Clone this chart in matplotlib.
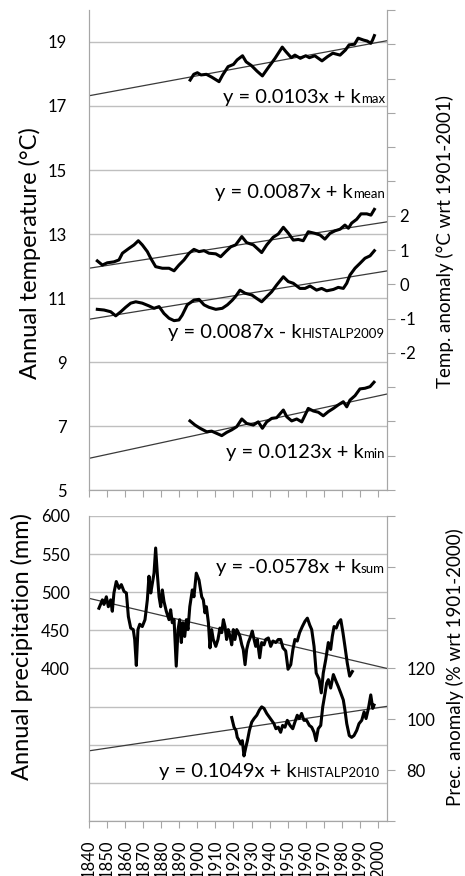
import matplotlib
matplotlib.use("Agg")
import matplotlib.pyplot as plt
from matplotlib.offsetbox import TextArea, HPacker, AnnotationBbox

plt.rcParams["font.family"] = ["Lato", "DejaVu Sans"]

# ---- temperature series (deg C) ----
tmax_years = [1896, 1898, 1900, 1902, 1905, 1908, 1912, 1914, 1917, 1920, 1922, 1925, 1927,
              1930, 1933, 1936, 1939, 1943, 1947, 1949, 1952, 1954, 1957, 1960, 1962, 1965,
              1969, 1972, 1975, 1979, 1982, 1984, 1987, 1989, 1992, 1994, 1996, 1997, 1998]
tmax = [17.81, 17.99, 18.04, 17.97, 17.99, 17.90, 17.76, 17.97, 18.23, 18.30, 18.44, 18.57, 18.38,
        18.26, 18.09, 17.94, 18.18, 18.49, 18.84, 18.70, 18.51, 18.59, 18.49, 18.57, 18.51, 18.57,
        18.41, 18.54, 18.65, 18.59, 18.75, 18.91, 18.93, 19.12, 19.06, 19.03, 18.96, 19.06, 19.20]

tmean_years = [1844.6, 1847.4, 1850.1, 1853.8, 1856.6, 1858.5, 1862.1, 1864.9, 1867.3, 1869.5,
               1872.3, 1874.2, 1876.9, 1880.6, 1884.3, 1887.1, 1889.8, 1892.6, 1895.4, 1898.1,
               1900.9, 1903.7, 1906.4, 1910.2, 1912.9, 1915.7, 1918.5, 1921.2, 1924.6, 1927.3,
               1931.0, 1935.6, 1938.4, 1942.0, 1944.8, 1947.6, 1950.3, 1953.1, 1955.9, 1958.6,
               1961.4, 1965.1, 1967.9, 1970.6, 1973.4, 1976.2, 1979.0, 1981.7, 1983.6, 1985.4,
               1988.2, 1990.6, 1993.8, 1996.1, 1998.0]
tmean = [12.16, 12.03, 12.10, 12.13, 12.19, 12.40, 12.55, 12.66, 12.79, 12.66,
         12.45, 12.24, 11.98, 11.93, 11.93, 11.85, 12.03, 12.19, 12.40, 12.52,
         12.45, 12.48, 12.40, 12.38, 12.29, 12.45, 12.60, 12.66, 12.92, 12.73,
         12.66, 12.42, 12.66, 12.90, 13.00, 13.21, 13.03, 12.81, 12.83, 12.79,
         13.07, 13.02, 12.97, 12.84, 13.02, 13.10, 13.15, 13.28, 13.18, 13.34,
         13.46, 13.63, 13.63, 13.59, 13.77]

# HISTALP temperature anomaly (deg C wrt 1901-2001, right axis)
hist_t_years = [1844.6, 1848.3, 1852.0, 1854.8, 1857.6, 1860.3, 1863.1, 1865.9, 1869.5, 1873.2,
                1876.0, 1878.8, 1881.5, 1884.3, 1887.1, 1889.8, 1891.6, 1894.4, 1898.1, 1900.9,
                1903.7, 1906.4, 1910.2, 1913.8, 1916.6, 1919.4, 1921.5, 1923.6, 1926.4, 1930.1,
                1932.8, 1935.6, 1938.4, 1941.1, 1943.9, 1947.6, 1950.3, 1953.1, 1956.8, 1959.6,
                1962.4, 1966.0, 1968.8, 1971.6, 1975.3, 1978.0, 1980.8, 1982.7, 1984.5, 1987.3,
                1990.0, 1992.8, 1995.6, 1998.0]
hist_t = [-0.73, -0.75, -0.80, -0.92, -0.80, -0.67, -0.55, -0.51, -0.55, -0.63,
          -0.70, -0.65, -0.85, -0.99, -1.06, -1.04, -0.90, -0.60, -0.46, -0.44,
          -0.60, -0.67, -0.73, -0.70, -0.60, -0.46, -0.33, -0.17, -0.26, -0.31,
          -0.41, -0.51, -0.36, -0.22, -0.02, 0.22, 0.08, 0.03, -0.12, -0.12,
          -0.05, -0.17, -0.12, -0.19, -0.15, -0.09, -0.12, 0.03, 0.27, 0.47,
          0.61, 0.76, 0.83, 0.98]

tmin_years = [1895.9, 1898.7, 1901.5, 1905.2, 1907.9, 1910.7, 1913.5, 1916.2, 1919.0, 1921.8,
              1924.6, 1927.3, 1931.0, 1933.7, 1936.0, 1938.4, 1941.2, 1943.9, 1947.6, 1949.5,
              1952.2, 1955.0, 1957.8, 1961.4, 1964.2, 1967.0, 1969.7, 1972.5, 1975.3, 1978.0,
              1980.8, 1982.7, 1984.5, 1987.3, 1990.0, 1992.8, 1995.6, 1997.8]
tmin = [7.16, 7.03, 6.93, 6.82, 6.84, 6.77, 6.70, 6.80, 6.88, 6.98,
        7.22, 7.08, 7.03, 7.13, 6.93, 7.13, 7.24, 7.26, 7.50, 7.29,
        7.16, 7.22, 7.13, 7.55, 7.47, 7.43, 7.32, 7.45, 7.55, 7.66,
        7.76, 7.60, 7.81, 7.95, 8.16, 8.18, 8.23, 8.37]

# ---- precipitation (mm) ----
psum_years = [1845.5, 1847.4, 1848.3, 1849.6, 1850.7, 1852.0, 1852.9, 1853.8, 1855.1, 1856.6,
              1857.9, 1859.4, 1860.7, 1861.8, 1863.1, 1864.5, 1865.3, 1866.2, 1867.1, 1868.1,
              1869.5, 1871.0, 1872.3, 1873.2, 1874.2, 1875.1, 1876.0, 1876.9, 1877.8, 1878.8,
              1879.7, 1880.6, 1881.5, 1882.8, 1884.3, 1885.2, 1886.1, 1887.1, 1888.3, 1889.3,
              1890.2, 1891.1, 1892.0, 1893.0, 1893.9, 1894.8, 1895.8, 1897.2, 1898.1, 1899.4,
              1900.9, 1902.4, 1903.3, 1904.2, 1905.0, 1906.1, 1907.0, 1907.9, 1908.8, 1910.2,
              1911.4, 1912.5, 1913.5, 1914.4, 1915.3, 1916.2, 1917.1, 1918.1, 1919.0, 1919.9,
              1920.8, 1921.8, 1922.7, 1923.6, 1924.6, 1925.4, 1926.4, 1927.3, 1928.2, 1929.5,
              1930.4, 1931.4, 1932.3, 1933.2, 1934.5, 1935.6, 1936.9, 1937.8, 1939.3, 1940.6,
              1941.9, 1943.4, 1944.8, 1946.1, 1947.4, 1948.9, 1950.2, 1951.7, 1952.9, 1954.0,
              1955.3, 1956.6, 1958.1, 1959.6, 1960.9, 1962.2, 1963.3, 1964.6, 1965.8, 1967.4,
              1968.6, 1969.7, 1971.1, 1972.5, 1973.8, 1974.7, 1975.7, 1976.9, 1978.0, 1979.4,
              1980.6, 1981.7, 1983.0, 1984.3, 1985.8]
psum = [479, 490, 484, 494, 481, 490, 475, 499, 514, 505,
        510, 501, 499, 468, 453, 451, 438, 404, 451, 458,
        455, 464, 490, 521, 499, 512, 525, 558, 525, 494,
        481, 503, 488, 475, 464, 477, 460, 464, 403, 451,
        464, 434, 460, 442, 464, 451, 481, 503, 494, 525,
        516, 494, 490, 473, 481, 460, 427, 451, 438, 429,
        438, 453, 447, 464, 455, 438, 451, 442, 431, 451,
        438, 451, 447, 442, 431, 425, 405, 425, 434, 442,
        449, 438, 429, 438, 414, 434, 431, 438, 440, 429,
        436, 434, 438, 438, 427, 423, 399, 405, 425, 438,
        436, 447, 455, 462, 466, 457, 451, 429, 394, 386,
        368, 394, 412, 434, 425, 442, 455, 453, 460, 464,
        447, 429, 407, 390, 396]

# HISTALP precipitation anomaly (% wrt 1901-2000, right axis)
hist_p_years = [1919.0, 1920.3, 1921.4, 1922.1, 1923.2, 1924.0, 1924.9, 1925.8, 1926.8, 1927.7,
                1928.8, 1930.1, 1931.4, 1932.9, 1934.3, 1935.6, 1936.9, 1938.4, 1939.8, 1941.1,
                1942.4, 1943.5, 1944.8, 1946.1, 1947.2, 1948.5, 1949.8, 1951.3, 1952.8, 1954.0,
                1955.3, 1956.4, 1957.7, 1959.0, 1960.5, 1962.0, 1963.3, 1964.6, 1965.7, 1966.9,
                1968.3, 1969.4, 1970.7, 1971.6, 1972.5, 1973.8, 1975.3, 1976.8, 1978.0, 1979.4,
                1980.8, 1981.7, 1982.7, 1984.1, 1985.4, 1986.7, 1988.2, 1989.5, 1991.0, 1992.3,
                1993.4, 1994.7, 1996.0, 1997.1, 1997.8]
hist_p = [100.7, 96.9, 95.6, 92.9, 91.6, 90.3, 91.6, 85.6, 88.9, 91.6,
          95.6, 98.9, 100.3, 101.6, 103.6, 104.9, 104.3, 102.3, 100.9, 99.6,
          98.3, 96.3, 96.9, 94.9, 97.6, 96.9, 99.6, 97.6, 96.3, 98.9,
          101.6, 100.3, 102.3, 99.6, 99.6, 97.6, 96.9, 94.9, 91.6, 96.3,
          97.6, 104.9, 110.3, 114.3, 115.6, 112.3, 117.6, 114.9, 112.9, 110.3,
          107.6, 103.6, 98.3, 93.6, 92.9, 93.6, 95.6, 98.3, 99.6, 102.9,
          100.3, 104.3, 109.6, 104.3, 105.6]

# linear trend lines: value at start / end year
trend_years = [1840, 2005]
tmax_trend = [17.32, 19.04]
tmean_trend = [11.93, 13.38]
hist_t_trend = [-1.02, 0.39]
tmin_trend = [5.99, 8.00]
psum_trend = [492, 400]
hist_p_trend = [87.6, 105.1]

decades = list(range(1840, 2001, 10))

GRID = "#bfbfbf"
SPINE = "#a6a6a6"
LINE_KW = dict(color="black", lw=2.2, solid_joinstyle="round", zorder=3)
TREND_KW = dict(color="#3a3a3a", lw=0.9, zorder=2)


def style_axes(ax):
    for side in ["left", "right", "bottom"]:
        ax.spines[side].set_color(SPINE)
    ax.spines["top"].set_visible(False)


def equation(ax, x, y, main, sub):
    box = HPacker(children=[TextArea(main, textprops=dict(size=14.5)),
                            TextArea(sub, textprops=dict(size=9.5))],
                  align="baseline", pad=0, sep=0)
    ab = AnnotationBbox(box, (x, y), xycoords=ax.transAxes, box_alignment=(1, 0.5),
                        frameon=False, pad=0, zorder=5)
    ax.add_artist(ab)


fig = plt.figure(figsize=(4.65, 8.76), dpi=100)

# ---------------- temperature panel ----------------
ax1 = fig.add_axes([0.1914, 0.4406, 0.6409, 0.548])
ax1r = ax1.twinx()

ax1.plot(trend_years, tmax_trend, **TREND_KW)
ax1.plot(trend_years, tmean_trend, **TREND_KW)
ax1.plot(trend_years, tmin_trend, **TREND_KW)
ax1.plot(tmax_years, tmax, **LINE_KW)
ax1.plot(tmean_years, tmean, **LINE_KW)
ax1.plot(tmin_years, tmin, **LINE_KW)
ax1r.plot(trend_years, hist_t_trend, **TREND_KW)
ax1r.plot(hist_t_years, hist_t, **LINE_KW)

ax1.set_xlim(1840, 2005)
ax1.set_ylim(5, 20)
ax1.set_yticks(range(5, 20, 2))
ax1.set_xticks(decades)
ax1.set_xticklabels([])
ax1.grid(axis="y", color=GRID, lw=1.0)
ax1.set_axisbelow(True)
ax1.tick_params(axis="y", length=0, pad=16, labelsize=12)
ax1.tick_params(axis="x", length=5, color=SPINE, direction="out")

ax1r.set_ylim(-6, 8)
ax1r.set_yticks(range(-6, 9))
ax1r.set_yticklabels([str(v) if -2 <= v <= 2 else "" for v in range(-6, 9)])
ax1r.tick_params(axis="y", length=6, color=SPINE, pad=3, labelsize=12)

style_axes(ax1)
style_axes(ax1r)

equation(ax1, 0.993, 0.817, "y = 0.0103x + k", "max")
equation(ax1, 0.993, 0.619, "y = 0.0087x + k", "mean")
equation(ax1, 0.993, 0.329, "y = 0.0087x - k", "HISTALP2009")
equation(ax1, 0.993, 0.079, "y = 0.0123x + k", "min")

# ---------------- precipitation panel ----------------
ax2 = fig.add_axes([0.1914, 0.0628, 0.6409, 0.3482])
ax2r = ax2.twinx()

ax2.plot(trend_years, psum_trend, **TREND_KW)
ax2.plot(psum_years, psum, **LINE_KW)
ax2r.plot(trend_years, hist_p_trend, **TREND_KW)
ax2r.plot(hist_p_years, hist_p, **LINE_KW)

ax2.set_xlim(1840, 2005)
ax2.set_ylim(200, 600)
ax2.set_yticks(range(200, 601, 50))
ax2.set_yticklabels([str(v) if v >= 400 else "" for v in range(200, 601, 50)])
ax2.set_xticks(decades)
ax2.set_xticklabels([str(d) for d in decades], rotation=90)
ax2.grid(axis="y", color=GRID, lw=1.0)
ax2.set_axisbelow(True)
ax2.tick_params(axis="y", length=0, pad=14, labelsize=12)
ax2.tick_params(axis="x", length=5, color=SPINE, direction="out", pad=8, labelsize=12)

ax2r.set_ylim(60, 180)
ax2r.set_yticks(range(60, 181, 20))
ax2r.set_yticklabels([str(v) if 80 <= v <= 120 else "" for v in range(60, 181, 20)])
ax2r.tick_params(axis="y", length=6, color=SPINE, pad=8, labelsize=12)

style_axes(ax2)
style_axes(ax2r)

equation(ax2, 0.993, 0.83, "y = -0.0578x + k", "sum")
equation(ax2, 0.976, 0.161, "y = 0.1049x + k", "HISTALP2010")

# ---------------- axis titles ----------------
fig.text(0.0645, 0.7106, "Annual temperature (°C)", rotation=90, ha="center", va="center", size=17)
fig.text(0.047, 0.262, "Annual precipitation (mm)", rotation=90, ha="center", va="center", size=17)
fig.text(0.957, 0.7243, "Temp. anomaly (°C wrt 1901-2001)", rotation=90, ha="center", va="center", size=13.5)
fig.text(0.979, 0.238, "Prec. anomaly (% wrt 1901-2000)", rotation=90, ha="center", va="center", size=13.5)

fig.savefig("out.png", dpi=100)
